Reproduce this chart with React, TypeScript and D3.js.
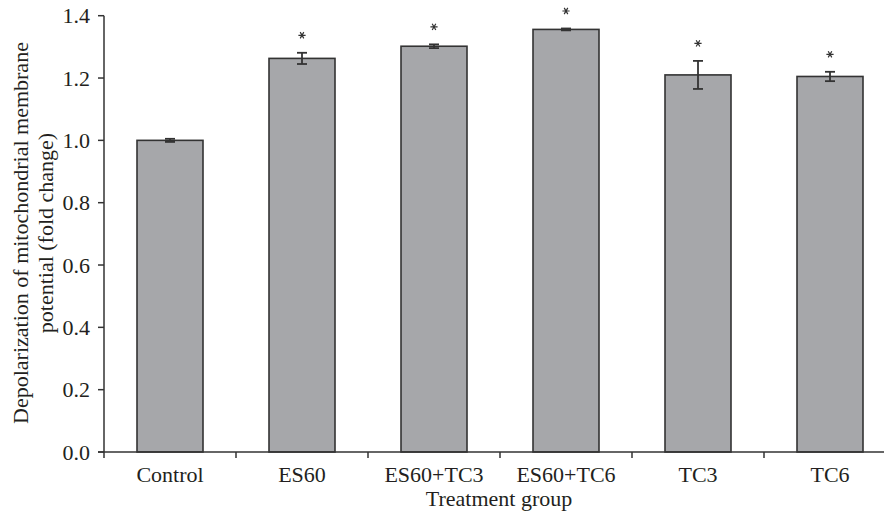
import React from "react";
import * as d3 from "d3";

const categories = ["Control", "ES60", "ES60+TC3", "ES60+TC6", "TC3", "TC6"];
const values = [1.0, 1.263, 1.302, 1.356, 1.21, 1.205];
const errors = [0.005, 0.018, 0.006, 0.003, 0.045, 0.015];
const significant = [false, true, true, true, true, true];
const yTicks = [0, 0.2, 0.4, 0.6, 0.8, 1.0, 1.2, 1.4];

const W = 884;
const H = 515;
const FONT = "'Liberation Serif', 'Times New Roman', serif";
const INK = "#333333";
const TXT = "#231f20";

export default function App() {
  const x = d3.scaleBand<string>().domain(categories).range([104, 896]).paddingInner(0.5).paddingOuter(0.25);
  const y = d3.scaleLinear().domain([0, 1.4]).range([452, 15.7]);
  const bw = x.bandwidth();
  const step = x.step();
  const boundaries = d3.range(categories.length + 1).map((i) => 104 + i * step);
  const star = d3.symbol(d3.symbolAsterisk, 36)() as string;

  return (
    <svg width={W} height={H} style={{ position: "absolute", left: 0, top: 0 }} fontFamily={FONT}>
      <rect width={W} height={H} fill="#fff" />
      {categories.map((c, i) => (
        <rect
          key={c}
          x={x(c)}
          y={y(values[i])}
          width={bw}
          height={y(0) - y(values[i])}
          fill="#a6a7aa"
          stroke={INK}
          strokeWidth={1.6}
        />
      ))}
      {categories.map((c, i) => {
        const cx = (x(c) as number) + bw / 2;
        const top = y(values[i] + errors[i]);
        const bot = y(values[i] - errors[i]);
        return (
          <g key={c + "e"} stroke={INK} strokeWidth={1.8}>
            <line x1={cx} x2={cx} y1={top} y2={bot} />
            <line x1={cx - 5} x2={cx + 5} y1={top} y2={top} />
            <line x1={cx - 5} x2={cx + 5} y1={bot} y2={bot} />
          </g>
        );
      })}
      {categories.map((c, i) =>
        significant[i] ? (
          <path
            key={c + "s"}
            d={star}
            transform={`translate(${(x(c) as number) + bw / 2},${y(values[i] + errors[i]) - 17.5}) rotate(90)`}
            fill="none"
            stroke={INK}
            strokeWidth={1.2}
          />
        ) : null
      )}
      <line x1={104} x2={104} y1={y(1.4)} y2={452} stroke={INK} strokeWidth={1.5} />
      {yTicks.map((t) => (
        <g key={t}>
          <line x1={98} x2={104} y1={y(t)} y2={y(t)} stroke={INK} strokeWidth={1.5} />
          <text x={90} y={y(t)} dy="0.35em" textAnchor="end" fontSize={22} fill={TXT}>
            {t.toFixed(1)}
          </text>
        </g>
      ))}
      <line x1={98} x2={896} y1={452} y2={452} stroke={INK} strokeWidth={1.5} />
      {boundaries.map((b, i) => (
        <line key={i} x1={b} x2={b} y1={452} y2={458} stroke={INK} strokeWidth={1.5} />
      ))}
      {categories.map((c) => (
        <text key={c + "l"} x={(x(c) as number) + bw / 2} y={482} textAnchor="middle" fontSize={22} fill={TXT}>
          {c}
        </text>
      ))}
      <text x={499} y={506} textAnchor="middle" fontSize={22} fill={TXT}>
        Treatment group
      </text>
      <text transform="translate(28,233) rotate(-90)" textAnchor="middle" fontSize={22} fill={TXT}>
        Depolarization of mitochondrial membrane
      </text>
      <text transform="translate(53,233) rotate(-90)" textAnchor="middle" fontSize={22} fill={TXT}>
        potential (fold change)
      </text>
    </svg>
  );
}
